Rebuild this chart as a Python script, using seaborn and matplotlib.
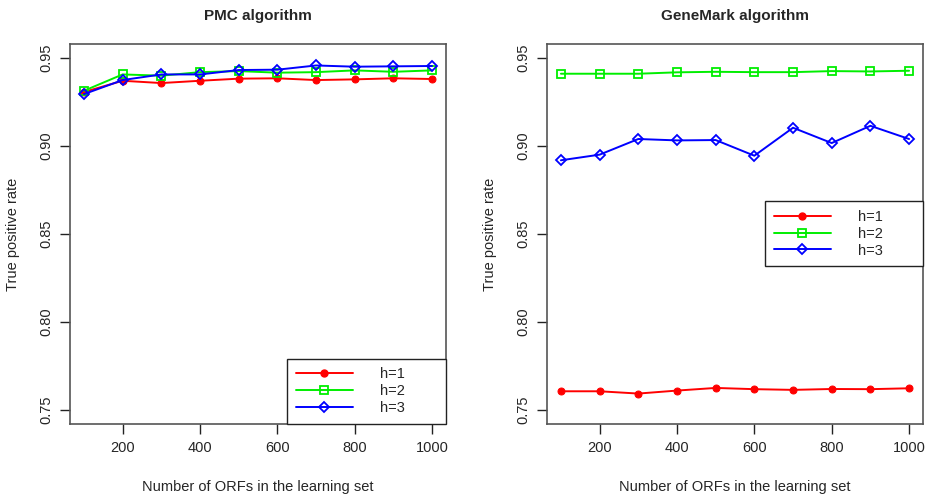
import matplotlib
matplotlib.use("Agg")
import matplotlib.pyplot as plt
import seaborn as sns
import pandas as pd

orfs = [100, 200, 300, 400, 500, 600, 700, 800, 900, 1000]

pmc_h1 = [0.9307, 0.9371, 0.9358, 0.9371, 0.9383, 0.9385, 0.9375, 0.9379, 0.9385, 0.9381]
pmc_h2 = [0.9314, 0.9407, 0.9400, 0.9420, 0.9426, 0.9417, 0.9420, 0.9430, 0.9422, 0.9430]
pmc_h3 = [0.9295, 0.9375, 0.9407, 0.9407, 0.9432, 0.9434, 0.9458, 0.9451, 0.9453, 0.9455]

gm_h1 = [0.7606, 0.7606, 0.7593, 0.7610, 0.7625, 0.7618, 0.7614, 0.7619, 0.7618, 0.7623]
gm_h2 = [0.9411, 0.9411, 0.9411, 0.9419, 0.9422, 0.9420, 0.9420, 0.9426, 0.9424, 0.9428]
gm_h3 = [0.8919, 0.8951, 0.9040, 0.9032, 0.9034, 0.8945, 0.9104, 0.9017, 0.9115, 0.9040]

series = ["h=1", "h=2", "h=3"]
colors = ["#ff0000", "#00ee00", "#0000ff"]
yticks = [0.75, 0.80, 0.85, 0.90, 0.95]
xticks = [200, 400, 600, 800, 1000]


def build_df(h1, h2, h3):
    rows = []
    for name, vals in zip(series, [h1, h2, h3]):
        for x, y in zip(orfs, vals):
            rows.append((x, y, name))
    return pd.DataFrame(rows, columns=["orfs", "tpr", "h"])


sns.set_style("ticks")
plt.rcParams["font.family"] = ["Liberation Sans", "DejaVu Sans"]

fig = plt.figure(figsize=(9.28, 4.95), dpi=100)
ax1 = fig.add_axes([70 / 928, 71 / 495, 376 / 928, 380 / 495])
ax2 = fig.add_axes([547 / 928, 71 / 495, 376 / 928, 380 / 495])

marker_styles = [
    dict(marker="o", markersize=5, markerfacecolor=colors[0], markeredgecolor=colors[0]),
    dict(marker="s", markersize=6, markerfacecolor="none", markeredgecolor=colors[1], markeredgewidth=1.3),
    dict(marker="D", markersize=5.5, markerfacecolor="none", markeredgecolor=colors[2], markeredgewidth=1.3),
]

# legend boxes in axes coords: (x0, y0, width, height), loc
panels = [
    (ax1, build_df(pmc_h1, pmc_h2, pmc_h3), "PMC algorithm", (0.577, 0.0, 0.423, 0.3), "lower left"),
    (ax2, build_df(gm_h1, gm_h2, gm_h3), "GeneMark algorithm", (0.58, 0.0, 0.42, 0.587), "upper left"),
]

for ax, df, title, bbox, loc in panels:
    handles = []
    for name, col, ms in zip(series, colors, marker_styles):
        sub = df[df["h"] == name]
        sns.lineplot(data=sub, x="orfs", y="tpr", ax=ax, color=col, linewidth=1.4,
                     estimator=None, sort=False, **ms)
        handles.append(plt.Line2D([], [], color=col, linewidth=1.4, **ms))
    ax.set_xlim(64, 1036)
    ax.set_ylim(0.742, 0.958)
    ax.set_xticks(xticks)
    ax.set_yticks(yticks)
    ax.set_yticklabels([f"{t:.2f}" for t in yticks], rotation=90, va="center")
    ax.tick_params(axis="both", direction="out", length=7, width=1, labelsize=10.5,
                   color="#222222", pad=5)
    for s in ax.spines.values():
        s.set_color("#555555")
        s.set_linewidth(1.2)
    ax.set_title(title, fontsize=11, fontweight="bold", pad=17)
    ax.set_xlabel("Number of ORFs in the learning set", fontsize=10.5, labelpad=18)
    ax.set_ylabel("True positive rate", fontsize=10.5, labelpad=14)
    leg = ax.legend(handles, series, loc=loc, bbox_to_anchor=bbox, mode="expand",
                    fancybox=False, edgecolor="#222222", framealpha=1, fontsize=10.5,
                    handlelength=3.9, handletextpad=1.9, borderpad=0.6,
                    labelspacing=0.2, borderaxespad=0)
    leg.get_frame().set_linewidth(1.0)

plt.savefig("out.png", dpi=100)
